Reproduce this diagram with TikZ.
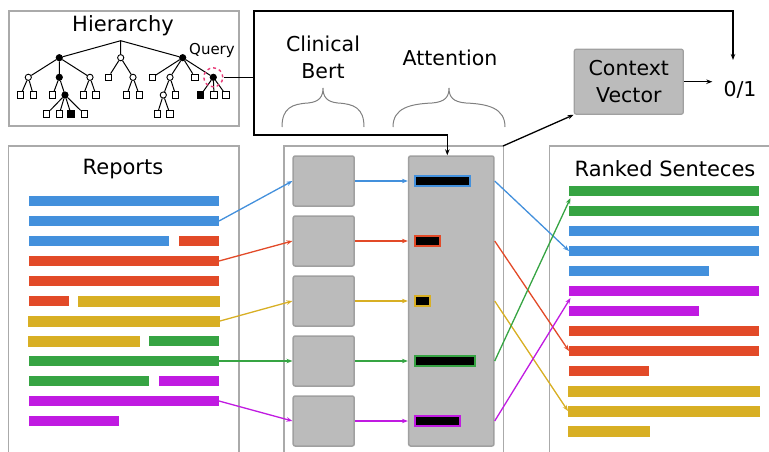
\documentclass[tikz,border=0pt]{standalone}
\usepackage{fontspec}
\setmainfont{DejaVu Sans}
\usetikzlibrary{arrows.meta}
\definecolor{cblue}{RGB}{67,144,220}
\definecolor{cred}{RGB}{226,74,40}
\definecolor{cyel}{RGB}{216,175,36}
\definecolor{cgreen}{RGB}{54,164,67}
\definecolor{cpurp}{RGB}{192,26,225}
\definecolor{boxfill}{RGB}{187,187,187}
\definecolor{boxline}{RGB}{160,160,160}
\definecolor{panelc}{RGB}{170,170,170}
\definecolor{qpink}{RGB}{232,60,120}
\definecolor{bracec}{RGB}{128,128,128}
\begin{document}
\begin{tikzpicture}[x=1pt,y=-1pt,
  hbar/.style={rectangle,inner sep=0pt,outer sep=0pt,minimum height=10pt,anchor=west},
  ybar/.style={hbar,fill=cyel,minimum height=11pt},
  gbox/.style={rectangle,rounded corners=2pt,fill=boxfill,draw=boxline,line width=1.5pt,inner sep=0pt},
  panelline/.style={draw=panelc,line width=1.6pt},
  carrow/.style={line width=1.3pt,-{Stealth[length=6pt,width=4.5pt]}},
  bline/.style={line width=1.3pt,black},
  barrow/.style={bline,-{Stealth[length=6pt,width=4.5pt]}},
  tline/.style={line width=1pt,black},
  oc/.style={circle,draw,fill=white,line width=0.9pt,minimum size=6.2pt,inner sep=0pt},
  fc/.style={circle,draw,fill=black,line width=0.9pt,minimum size=6.2pt,inner sep=0pt},
  sq/.style={rectangle,draw,fill=white,line width=0.9pt,minimum size=6.4pt,inner sep=0pt},
  fsq/.style={rectangle,draw,fill=black,line width=0.9pt,minimum size=6.4pt,inner sep=0pt},
  qcirc/.style={circle,draw=qpink,dashed,line width=1.4pt,minimum size=19pt,inner sep=0pt},
  brace/.style={draw=bracec,line width=1pt},
  attbar/.style={rectangle,line width=2pt,fill=black,inner sep=0pt,minimum height=9.3pt,anchor=west},
  lbl/.style={font=\fontsize{21}{27}\selectfont,inner sep=0pt,anchor=base},
  mlbl/.style={font=\fontsize{20.5}{27}\selectfont,inner sep=0pt,align=center}
]
\useasboundingbox (0,0) rectangle (769,451);

% ---------- panels ----------
\draw[panelline] (9,11) rectangle (239,126);
\draw[panelline] (8.5,452) -- (8.5,146) -- (239,146) -- (239,452);
\draw[panelline] (284,452) -- (284,146) -- (503.5,146) -- (503.5,452);
\draw[panelline] (549.3,452) -- (549.3,146) -- (772,146);
\coordinate (mp) at (503,146);

% ---------- titles ----------
\node[lbl] (thier) at (123,31.7) {Hierarchy};
\node[lbl,font=\fontsize{15}{18}\selectfont] (tquery) at (212,54) {Query};
\node[lbl] (trep) at (123,174.3) {Reports};
\node[lbl] (trank) at (665,176.7) {Ranked Senteces};
\node[mlbl] (tbert) at (323,57.5) {Clinical\\Bert};
\node[lbl,font=\fontsize{20.5}{27}\selectfont] (tatt) at (450,65) {Attention};

% ---------- braces ----------
\draw[brace] (282,127) .. controls (282,108) and (292,104) .. (308,103) .. controls (319,102) and (323,97) .. (323,88) .. controls (323,97) and (327,102) .. (338,103) .. controls (354,104) and (364,108) .. (364,127);
\draw[brace] (393,127) .. controls (393,108) and (410,104) .. (432,103) .. controls (445,102) and (449,97) .. (449,88) .. controls (449,97) and (453,102) .. (466,103) .. controls (488,104) and (505,108) .. (505,127);

% ---------- hierarchy tree ----------
\coordinate (root) at (120.7,40.7);
\node[fc] (a) at (59.3,57.7) {};
\node[oc] (b) at (120.7,57.7) {};
\node[fc] (c) at (182.7,57.7) {};
\node[oc] (a1) at (28.3,77.3) {};
\node[fc] (a2) at (59.3,77.3) {};
\node[oc] (a3) at (90,77.3) {};
\node[sq] (b1) at (108.3,77.3) {};
\node[oc] (b2) at (133,77.3) {};
\node[sq] (c1) at (152.3,77.3) {};
\node[oc] (c2) at (170,77.3) {};
\node[sq] (c3) at (195,77.3) {};
\node[fc] (c4) at (213.3,77.3) {};
\node[sq] (a11) at (20.7,95) {};
\node[sq] (a12) at (33.3,95) {};
\node[sq] (a21) at (52.7,95) {};
\node[fc] (a22) at (65,95) {};
\node[sq] (a31) at (83.3,95) {};
\node[sq] (a32) at (96,95) {};
\node[sq] (b21) at (126.7,95) {};
\node[sq] (b22) at (139.3,95) {};
\node[oc] (c21) at (163.3,95) {};
\node[sq] (c22) at (175.7,95) {};
\node[fsq] (c41) at (200.7,95) {};
\node[sq] (c42) at (214,95) {};
\node[sq] (c43) at (226,95) {};
\node[sq] (a221) at (46.7,114) {};
\node[sq] (a222) at (59.3,114) {};
\node[fsq] (a223) at (71,114) {};
\node[sq] (a224) at (84.3,114) {};
\node[sq] (c211) at (157.3,114) {};
\node[sq] (c212) at (170,114) {};
\draw[tline] (root) -- (a) (root) -- (b) (root) -- (c);
\draw[tline] (a) -- (a1) (a) -- (a2) (a) -- (a3);
\draw[tline] (b) -- (b1) (b) -- (b2);
\draw[tline] (c) -- (c1) (c) -- (c2) (c) -- (c3) (c) -- (c4);
\draw[tline] (a1) -- (a11) (a1) -- (a12) (a2) -- (a21) (a2) -- (a22) (a3) -- (a31) (a3) -- (a32);
\draw[tline] (b2) -- (b21) (b2) -- (b22) (c2) -- (c21) (c2) -- (c22);
\draw[tline] (c4) -- (c41) (c4) -- (c42) (c4) -- (c43);
\draw[tline] (a22) -- (a221) (a22) -- (a222) (a22) -- (a223) (a22) -- (a224);
\draw[tline] (c21) -- (c211) (c21) -- (c212);
\node[qcirc] (q) at (c4) {};

% ---------- report bars ----------
\node[hbar,fill=cblue,minimum width=190pt] (r1) at (29,201) {};
\node[hbar,fill=cblue,minimum width=190pt] (r2) at (29,221) {};
\node[hbar,fill=cblue,minimum width=140pt] (r3a) at (29,241) {};
\node[hbar,fill=cred,minimum width=40pt] (r3b) at (179,241) {};
\node[hbar,fill=cred,minimum width=190pt] (r4) at (29,261) {};
\node[hbar,fill=cred,minimum width=190pt] (r5) at (29,281) {};
\node[hbar,fill=cred,minimum width=40pt] (r6a) at (29,301) {};
\node[ybar,minimum width=142pt] (r6b) at (78,301) {};
\node[ybar,minimum width=192pt] (r7) at (28,321) {};
\node[ybar,minimum width=112pt] (r8a) at (28,341) {};
\node[hbar,fill=cgreen,minimum width=70pt] (r8b) at (149,341) {};
\node[hbar,fill=cgreen,minimum width=190pt] (r9) at (29,361) {};
\node[hbar,fill=cgreen,minimum width=120pt] (r10a) at (29,381) {};
\node[hbar,fill=cpurp,minimum width=60pt] (r10b) at (159,381) {};
\node[hbar,fill=cpurp,minimum width=190pt] (r11) at (29,401) {};
\node[hbar,fill=cpurp,minimum width=90pt] (r12) at (29,421) {};

% ---------- ranked bars ----------
\node[hbar,fill=cgreen,minimum width=190pt] (k1) at (569,191) {};
\node[hbar,fill=cgreen,minimum width=190pt] (k2) at (569,211) {};
\node[hbar,fill=cblue,minimum width=190pt] (k3) at (569,231) {};
\node[hbar,fill=cblue,minimum width=190pt] (k4) at (569,251) {};
\node[hbar,fill=cblue,minimum width=140pt] (k5) at (569,271) {};
\node[hbar,fill=cpurp,minimum width=190pt] (k6) at (569,291) {};
\node[hbar,fill=cpurp,minimum width=130pt] (k7) at (569,311) {};
\node[hbar,fill=cred,minimum width=190pt] (k8) at (569,331) {};
\node[hbar,fill=cred,minimum width=190pt] (k9) at (569,351) {};
\node[hbar,fill=cred,minimum width=80pt] (k10) at (569,371) {};
\node[ybar,minimum width=192pt] (k11) at (568,391) {};
\node[ybar,minimum width=192pt] (k12) at (568,411) {};
\node[ybar,minimum width=82pt] (k13) at (568,431) {};

% ---------- bert boxes and attention ----------
\node[gbox,minimum width=61pt,minimum height=50pt] (bb1) at (323.7,181) {};
\node[gbox,minimum width=61pt,minimum height=50pt] (bb2) at (323.7,241) {};
\node[gbox,minimum width=61pt,minimum height=50pt] (bb3) at (323.7,301) {};
\node[gbox,minimum width=61pt,minimum height=50pt] (bb4) at (323.7,361) {};
\node[gbox,minimum width=61pt,minimum height=50pt] (bb5) at (323.7,421) {};
\node[gbox,minimum width=85.3pt,minimum height=290pt] (att) at (451.3,301) {};
\node[attbar,draw=cblue,minimum width=54.7pt] (at1) at (414.3,181) {};
\node[attbar,draw=cred,minimum width=25pt] (at2) at (414.3,241) {};
\node[attbar,draw=cyel,minimum width=15pt] (at3) at (414.3,301) {};
\node[attbar,draw=cgreen,minimum width=59.7pt] (at4) at (414.3,361) {};
\node[attbar,draw=cpurp,minimum width=44.7pt] (at5) at (414.3,421) {};

% ---------- context vector ----------
\node[gbox,line width=1.2pt,minimum width=109pt,minimum height=65pt,mlbl] (cv) at (628.8,81.7) {Context\\Vector};
\node[inner sep=0pt,font=\fontsize{20.5}{27}\selectfont,anchor=base] (ov) at (740,96.7) {0/1};
\coordinate (ovin) at (733,60);

% ---------- colored connectors ----------
\draw[carrow,cblue] (r2.east) -- (bb1.west);
\draw[carrow,cred] (r4.east) -- (bb2.west);
\draw[carrow,cyel] (r7.east) -- (bb3.west);
\draw[carrow,cgreen] (r9.east) -- (bb4.west);
\draw[carrow,cpurp] (r11.east) -- (bb5.west);
\draw[carrow,cblue] (bb1.east) -- (bb1.east -| att.west);
\draw[carrow,cred] (bb2.east) -- (bb2.east -| att.west);
\draw[carrow,cyel] (bb3.east) -- (bb3.east -| att.west);
\draw[carrow,cgreen] (bb4.east) -- (bb4.east -| att.west);
\draw[carrow,cpurp] (bb5.east) -- (bb5.east -| att.west);
\draw[carrow,cblue] (at1 -| att.east) -- (k4.west);
\draw[carrow,cred] (at2 -| att.east) -- (k9.west);
\draw[carrow,cyel] (at3 -| att.east) -- (k12.west);
\draw[carrow,cgreen] (at4 -| att.east) -- ([shift={(1.5,2)}]k1.south west);
\draw[carrow,cpurp] (at5 -| att.east) -- ([shift={(1.5,2)}]k6.south west);

% ---------- black connectors ----------
\coordinate (j) at (254,77.3);
\draw[bline] (q.east) -- (j);
\draw[barrow] (j) -- ++(0,-66.3) -| (ovin);
\draw[barrow] (j) -- ++(0,57.7) -| ([xshift=-4pt]att.north);
\draw[barrow] (mp) -- (cv.south west);
\draw[barrow,shorten >=11pt] (cv.east) -- (cv.east -| ov.west);
\end{tikzpicture}
\end{document}
